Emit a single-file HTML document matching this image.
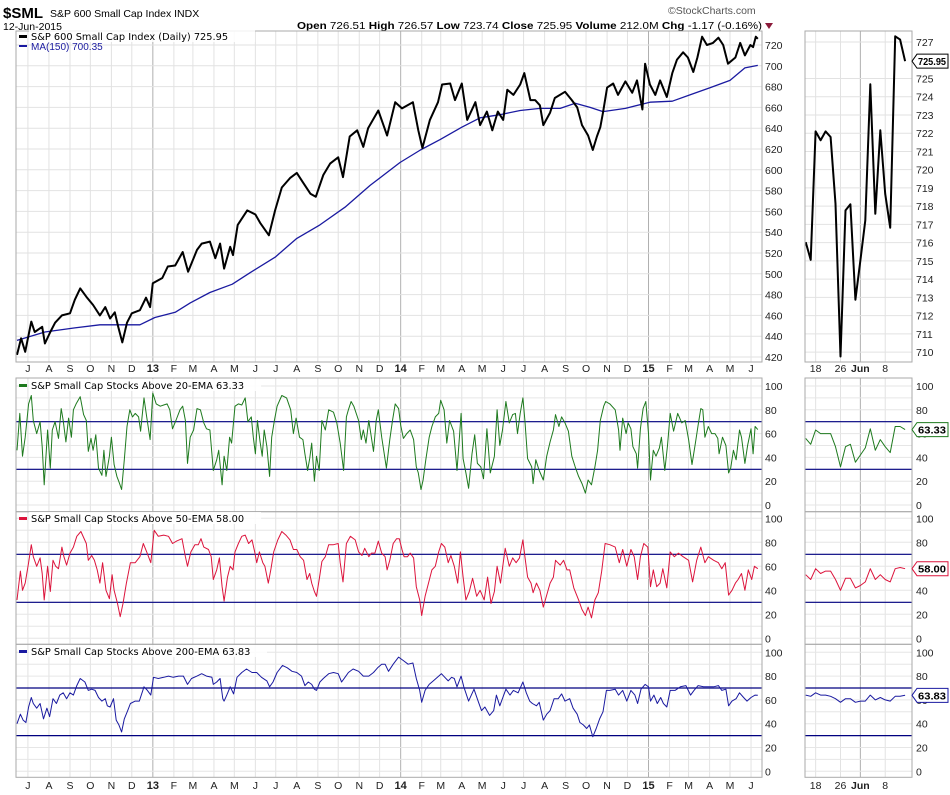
<!DOCTYPE html>
<html><head><meta charset="utf-8"><title>$SML chart</title>
<style>
html,body{margin:0;padding:0;background:#fff;}
svg{display:block;font-family:"Liberation Sans",sans-serif;}
</style></head>
<body>
<svg id="chart" width="950" height="795" viewBox="0 0 950 795" xmlns="http://www.w3.org/2000/svg">
<g>
<text x="3" y="18" font-size="15" font-weight="bold" fill="#000">$SML</text>
<text x="50" y="17" font-size="10.5" fill="#000">S&amp;P 600 Small Cap Index INDX</text>
<text x="3" y="30" font-size="10.5" fill="#000">12-Jun-2015</text>
<text x="668" y="14" font-size="10.5" fill="#555">©StockCharts.com</text>
<text x="297" y="29" font-size="10.5" fill="#000" textLength="465" lengthAdjust="spacingAndGlyphs"><tspan font-weight="bold">Open</tspan> 726.51 <tspan font-weight="bold">High</tspan> 726.57 <tspan font-weight="bold">Low</tspan> 723.74 <tspan font-weight="bold">Close</tspan> 725.95 <tspan font-weight="bold">Volume</tspan> 212.0M <tspan font-weight="bold">Chg</tspan> -1.17 (-0.16%)</text>
<polygon points="765,23 773,23 769,29" fill="#8b1a3a"/>
</g>
<g id="grid"></g>
<g id="marks"></g>
<g id="labels"></g>
</svg>
<script>
// ---------- DATA ----------
const priceDays=[3,9,15,24,29,40,44,52,59,69,81,88,96,105,115,125,133,140,147,152,158,165,172,184,193,199,203,217,225,236,247,255,268,275,287,295,302,308,317,321,328,342,354,361,374,383,393,405,415,424,435,443,454,464,476,483,493,504,513,520,535,548,560,570,586,594,600,611,623,629,641,648,658,666,678,685,695,703,711,719,725,734,744,750,759,766,773,778,788,795,810,820,828,835,844,851,857,862,866,872,881,888,899,909,916,924,928,935,943,950,960,968,975,984,991,999,1005,1012,1019,1028,1036,1043,1050,1061,1068,1075,1083,1087,1091,1094];
const priceVals=[422,438,425,454,444,449,433,444,453,460,462,475,486,478,470,460,468,457,463,449,434,453,462,465,477,468,491,496,507,508,521,502,523,529,531,515,529,505,526,518,547,561,557,549,537,561,583,592,597,588,577,574,595,606,612,593,632,638,622,640,657,633,665,659,665,638,621,648,665,682,683,667,683,648,665,643,656,638,656,648,677,672,682,693,667,667,662,643,655,669,675,667,660,643,633,619,632,641,655,679,683,672,685,674,686,658,702,682,672,686,670,693,706,713,708,694,708,728,720,722,727,720,702,708,722,710,720,718,728,725.95];
const maDays=[3,44,88,125,184,206,236,258,287,320,346,383,415,449,486,523,567,597,626,658,685,714,744,773,803,825,847,866,899,935,968,994,1024,1053,1075,1094];
const maVals=[436,444,448,451,451,458,463,472,482,490,501,516,534,547,564,585,607,619,629,641,650,653,657,659,659,664,660,656,659,665,666,672,679,686,698,700.35];
const ema20Days=[3,7,11,15,20,24,27,32,37,40,43,48,52,55,59,64,68,71,75,79,83,86,90,96,101,105,108,112,115,119,123,128,131,134,139,142,146,150,154,157,161,165,169,173,177,182,185,190,194,199,203,208,214,219,224,228,232,237,243,247,251,254,258,263,268,273,278,282,287,292,297,300,305,308,312,316,319,324,329,334,339,343,348,351,354,357,361,364,367,371,375,378,382,386,393,400,406,410,414,419,424,427,431,434,437,441,444,448,452,457,462,469,474,479,484,488,491,495,499,506,510,513,517,521,524,528,532,535,540,547,552,556,560,565,568,572,577,582,587,591,594,598,601,605,610,614,619,624,627,632,636,640,646,651,654,657,660,664,668,673,677,681,686,690,695,700,706,710,714,718,723,728,733,737,740,744,748,751,755,761,763,767,772,778,783,788,793,796,801,805,810,815,820,825,830,835,840,844,849,854,858,862,867,870,876,884,889,891,895,900,903,907,910,915,917,921,925,929,933,936,940,944,949,952,957,961,965,970,976,982,987,992,997,1002,1006,1010,1013,1016,1021,1026,1031,1035,1037,1042,1047,1051,1054,1058,1062,1067,1070,1075,1079,1084,1087,1090,1094];
const ema20Vals=[46,77,41,57,85,92,71,60,70,49,17,63,31,63,70,56,81,71,53,73,57,80,85,91,76,71,45,56,46,59,31,25,46,24,41,57,34,24,18,13,38,66,80,74,77,74,62,90,74,55,94,85,83,84,85,80,64,71,80,83,71,35,57,63,81,80,69,64,63,29,38,46,17,41,29,57,52,83,85,84,90,70,74,57,43,71,53,41,63,49,24,57,71,83,92,90,80,60,73,57,55,43,29,39,52,20,41,29,71,63,80,78,69,52,29,74,80,87,83,71,55,63,52,71,60,45,71,80,57,31,55,71,85,81,67,56,60,63,55,32,27,13,21,38,57,66,74,77,88,80,52,71,62,29,53,77,39,27,14,43,59,35,32,22,64,27,41,80,50,63,87,69,76,77,60,77,90,71,39,32,18,38,29,21,41,53,63,76,66,74,69,62,41,32,24,18,10,21,17,32,46,71,83,87,85,80,63,46,73,60,69,64,49,43,31,64,81,87,60,21,46,41,48,57,29,50,77,62,77,69,71,55,34,52,67,81,80,57,66,60,60,56,43,57,50,27,31,46,38,63,57,35,50,64,43,66,63.33];
const ema50Days=[3,8,11,15,20,24,27,32,37,40,43,48,52,56,60,64,69,72,76,81,86,91,97,105,108,113,117,121,125,129,134,139,143,146,151,155,159,164,170,177,184,189,194,200,205,211,219,226,232,238,246,251,254,259,265,270,274,278,285,289,292,297,301,305,308,313,317,321,324,329,334,339,344,349,353,356,360,365,368,373,377,381,387,393,399,405,410,415,420,425,430,434,437,441,444,448,452,457,462,469,476,479,483,488,494,501,506,511,515,521,525,530,535,540,545,548,552,557,562,566,570,573,578,582,587,591,596,599,604,609,614,619,624,628,633,638,642,647,652,656,660,664,669,674,680,685,691,696,701,706,710,715,722,728,733,738,743,748,751,755,760,763,768,773,778,783,788,793,796,803,808,813,817,823,830,835,840,844,849,854,859,864,869,876,884,890,895,901,907,912,917,921,926,932,936,940,945,950,954,960,965,971,977,984,992,998,1004,1010,1016,1021,1029,1036,1041,1046,1051,1056,1061,1065,1070,1075,1080,1085,1089,1094];
const ema50Vals=[32,56,40,46,63,78,68,60,67,54,32,60,39,65,60,58,76,68,61,71,76,85,89,79,65,69,65,57,46,63,40,33,53,40,29,18,29,46,63,63,68,79,72,63,90,85,86,85,79,81,83,68,60,72,78,78,83,76,74,68,49,57,67,43,31,51,60,57,72,79,85,86,79,82,72,63,72,63,60,46,58,72,82,89,86,82,74,74,68,65,49,54,46,39,35,49,64,68,78,78,79,63,47,79,85,82,72,69,75,68,71,71,81,71,68,57,65,79,83,83,74,68,68,71,67,43,32,19,35,46,57,60,72,79,76,63,69,60,46,72,51,32,39,50,35,40,32,51,29,39,60,46,75,60,67,63,67,82,68,51,46,38,46,40,26,36,46,51,65,61,65,57,57,42,32,24,19,26,17,32,38,56,79,78,76,63,74,60,74,68,49,68,79,76,43,57,43,46,58,42,72,68,71,68,65,47,65,76,63,68,65,63,58,63,36,40,46,49,54,40,57,49,60,58];
const ema200Days=[3,8,12,16,20,24,27,32,37,42,47,51,56,61,66,71,76,81,86,91,96,103,108,113,118,123,128,133,136,140,145,149,153,157,161,166,170,177,183,190,195,200,204,211,219,226,233,241,248,254,260,268,275,282,290,292,297,302,306,308,312,317,322,327,334,341,349,356,363,371,375,380,386,394,401,408,415,422,427,432,437,441,444,449,454,462,469,476,481,486,491,498,506,513,521,528,534,540,545,550,557,565,572,579,586,591,596,599,604,610,616,624,628,633,638,643,647,651,657,661,668,676,682,687,692,699,705,709,714,723,729,734,741,748,753,758,762,768,772,778,783,788,794,800,805,810,817,822,828,832,837,842,846,851,856,861,866,871,876,884,889,895,901,907,913,917,922,928,933,936,941,946,951,955,960,965,972,980,988,995,1000,1006,1014,1021,1029,1036,1041,1047,1051,1056,1062,1067,1073,1078,1084,1090,1094];
const ema200Vals=[40,48,43,41,54,62,57,53,57,44,53,46,61,57,64,66,61,66,64,72,78,75,68,69,68,62,59,61,55,54,61,43,39,33,44,51,57,59,59,71,68,64,79,78,79,80,79,80,80,73,78,80,82,80,79,73,75,78,61,59,64,71,65,79,83,86,83,83,79,76,71,75,83,89,87,84,83,80,72,75,73,69,68,75,78,82,83,82,75,79,83,86,84,80,80,83,87,90,90,84,90,96,93,90,91,78,68,58,68,73,76,80,82,79,76,79,78,71,80,71,59,69,59,51,54,47,51,64,55,69,64,68,66,75,66,59,57,55,58,43,48,51,61,61,65,59,61,53,48,41,39,36,39,29,36,44,50,68,68,69,64,68,59,68,64,57,69,73,71,59,64,57,62,57,54,68,68,71,72,64,68,72,71,71,71,72,68,69,55,59,61,66,62,59,62,64,63.83];
// recent (last 21 sessions, May 14 – Jun 12 2015)
const recentLabels=["","","18","","","","","26","","","","Jun","","","","","8","","","",""];
const recentPrice=[716.03,715.06,722.10,721.61,722.10,721.79,718.13,709.76,717.77,718.10,712.87,715.03,717.22,724.68,717.58,722.16,718.68,716.82,727.31,727.13,725.95];
const recent20=[56,51,63,60,60,60,49,32,49,51,36,42,48,64,46,55,49,44,66,66,63.33];
const recent50=[53,49,58,54,56,56,49,40,50,50,42,44,47,58,49,53,49,47,58,59,58];
const recent200=[64,63,66,64,64,63,61,58,61,61,58,59,59,64,60,62,60,59,63,63,63.83];
const priceTicks=[420,440,460,480,500,520,540,560,580,600,620,640,660,680,700,720];
const recentTicks=[710,711,712,713,714,715,716,717,718,719,720,721,722,723,724,725,727];
const oscTicks=[0,20,40,60,80,100];

// ---------- SCALES ----------
const NS="http://www.w3.org/2000/svg";
const L=16,R=762,RL=805,RR=912;
const xMain=d=>15+d*0.679;
const yPrice=v=>45+(720-v)*1.04;
const xRecent=i=>805.7+i*4.97;
const yRecent=v=>42+(727-v)*18.24;
const panels=[{top:378,bot:511.7,zero:505,k:1.19},{top:511.7,bot:644.3,zero:638.3,k:1.2},{top:644.3,bot:777.3,zero:771.3,k:1.19}];
const yOsc=(p,v)=>panels[p].zero-v*panels[p].k;
const grid=document.getElementById('grid'),marks=document.getElementById('marks'),labels=document.getElementById('labels');
function mk(tag,attrs,parent){const e=document.createElementNS(NS,tag);for(const k in attrs)e.setAttribute(k,attrs[k]);parent.appendChild(e);return e;}
function line(x1,y1,x2,y2,stroke,w,parent){return mk('line',{x1:x1,y1:y1,x2:x2,y2:y2,stroke:stroke,'stroke-width':w},parent);}
function txt(x,y,s,size,parent,extra){const t=mk('text',Object.assign({x:x,y:y,'font-size':size,fill:'#222'},extra||{}),parent);t.textContent=s;return t;}
function pts(xs,ys){return xs.map((x,i)=>x.toFixed(1)+','+ys[i].toFixed(1)).join(' ');}

// ---------- GRID ----------
const start=Date.UTC(2012,5,12);
const monthLetters=["J","F","M","A","M","J","J","A","S","O","N","D"];
const panelRanges=[[31,362],[378,511.7],[511.7,644.3],[644.3,777.3]];
for(let y=2012,m=6;y<2015||(y===2015&&m<=5);){
  const d=(Date.UTC(y,m,1)-start)/86400000;const x=xMain(d);
  const isYear=m===0;
  panelRanges.forEach(r=>{const g=line(x,r[0],x,r[1],isYear?'#b0b0b0':'#e2e2e2',1,grid);

});
  const s=isYear?String(y).slice(2):monthLetters[m];
  [372,789].forEach(yy=>{const t=txt(x,yy,s,isYear?11:10.5,labels,{'text-anchor':'middle','font-weight':isYear?'bold':'normal'});

});
  m++;if(m>11){m=0;y++;}
}
recentLabels.forEach((s,i)=>{if(!s)return;const x=xRecent(i);
  panelRanges.forEach(r=>{const g=line(x,r[0],x,r[1],s==='Jun'?'#b0b0b0':'#e2e2e2',1,grid);

});
  [372,789].forEach(yy=>{const t=txt(x,yy,s,10.5,labels,{'text-anchor':'middle','font-weight':s==='Jun'?'bold':'normal'});

});
});
priceTicks.forEach(v=>{const y=yPrice(v);const g=line(L,y,R,y,'#e2e2e2',1,grid);


const t=txt(765,y+4,String(v),10.5,labels);

});
recentTicks.forEach(v=>{const y=yRecent(v);const g=line(RL,y,RR,y,'#e2e2e2',1,grid);


const t=txt(916,y+4,String(v),10.5,labels);

});
panels.forEach((p,pi)=>{
  for(let v=0;v<=100;v+=10){const y=yOsc(pi,v);[[L,R],[RL,RR]].forEach(a=>{const g=line(a[0],y,a[1],y,'#e6e6e6',1,grid);

});}
  oscTicks.forEach(v=>{const y=yOsc(pi,v);[765,916].forEach(xx=>{const t=txt(xx,y+4,String(v),10.5,labels);

});});
  [70,30].forEach(v=>{const y=yOsc(pi,v);[[L,R],[RL,RR]].forEach(a=>{const g=line(a[0],y,a[1],y,'#000080',1.2,marks);

});});
});
// frames
[[L,31,R,362],[RL,31,RR,362]].concat(panels.map(p=>[L,p.top,R,p.bot])).concat(panels.map(p=>[RL,p.top,RR,p.bot])).forEach(f=>{
const r=mk('rect',{x:f[0],y:f[1],width:f[2]-f[0],height:f[3]-f[1],fill:'none',stroke:'#aaa','stroke-width':1},labels);

});

// ---------- SERIES ----------
function series(days,vals,yf,color,w,name){
  const n=Math.min(days.length,vals.length);
  const p=mk('polyline',{points:pts(days.slice(0,n).map(xMain),vals.slice(0,n).map(yf)),fill:'none',stroke:color,'stroke-width':w,'stroke-linejoin':'round'},marks);
  
  
}
function rseries(vals,yf,color,w,name){
  const p=mk('polyline',{points:pts(vals.map((v,i)=>xRecent(i)),vals.map(yf)),fill:'none',stroke:color,'stroke-width':w,'stroke-linejoin':'round'},marks);
  
  
}
series(maDays,maVals,yPrice,'#1a1aa0',1.3,'ma150-line');
series(priceDays,priceVals,yPrice,'#000',2,'price-line');
series(ema20Days,ema20Vals,v=>yOsc(0,v),'#1e7a1e',1,'above-20ema-line');
series(ema50Days,ema50Vals,v=>yOsc(1,v),'#dc143c',1,'above-50ema-line');
series(ema200Days,ema200Vals,v=>yOsc(2,v),'#1a1aa0',1,'above-200ema-line');
rseries(recentPrice,yRecent,'#000',2,'recent-price-line');
rseries(recent20,v=>yOsc(0,v),'#1e7a1e',1,'recent-20ema-line');
rseries(recent50,v=>yOsc(1,v),'#dc143c',1,'recent-50ema-line');
rseries(recent200,v=>yOsc(2,v),'#1a1aa0',1,'recent-200ema-line');

// value tags
function tag(y,s,color,name){
  const g=mk('g',{},labels);
  
  
  mk('polygon',{points:`912,${y} 917,${y-7} 948,${y-7} 948,${y+7} 917,${y+7}`,fill:'#fff',stroke:color,'stroke-width':1},g);
  txt(918,y+4,s,10,g,{'font-weight':'bold',fill:'#000',textLength:28,lengthAdjust:'spacingAndGlyphs'});
}
tag(yRecent(recentPrice[recentPrice.length-1]),'725.95','#000','price-value-tag');
tag(yOsc(0,recent20[recent20.length-1]),'63.33','#1e7a1e','ema20-value-tag');
tag(yOsc(1,recent50[recent50.length-1]),'58.00','#dc143c','ema50-value-tag');
tag(yOsc(2,recent200[recent200.length-1]),'63.83','#1a1aa0','ema200-value-tag');

// legends
function legend(y,color,s,name){
  const g=mk('g',{},labels);
  
  
  mk('rect',{x:19,y:y-5,width:8,height:3,fill:color},g);
  mk('rect',{x:29,y:y-10,width:s.length*5.95,height:12,fill:'#fff','fill-opacity':0.85},g);
  txt(31,y,s,9.8,g,{'font-family':'"DejaVu Sans",sans-serif',fill:'#000'});
}
legend(40,'#000','S&P 600 Small Cap Index (Daily) 725.95','price-legend');
const ma=mk('text',{x:31,y:50,'font-size':10,fill:'#1a1aa0'},labels);ma.textContent='MA(150) 700.35';


mk('rect',{x:19,y:45,width:8,height:2,fill:'#1a1aa0'},labels);
legend(389,'#1e7a1e','S&P Small Cap Stocks Above 20-EMA 63.33','ema20-legend');
legend(522,'#dc143c','S&P Small Cap Stocks Above 50-EMA 58.00','ema50-legend');
legend(655,'#1a1aa0','S&P Small Cap Stocks Above 200-EMA 63.83','ema200-legend');
</script>
</body></html>
